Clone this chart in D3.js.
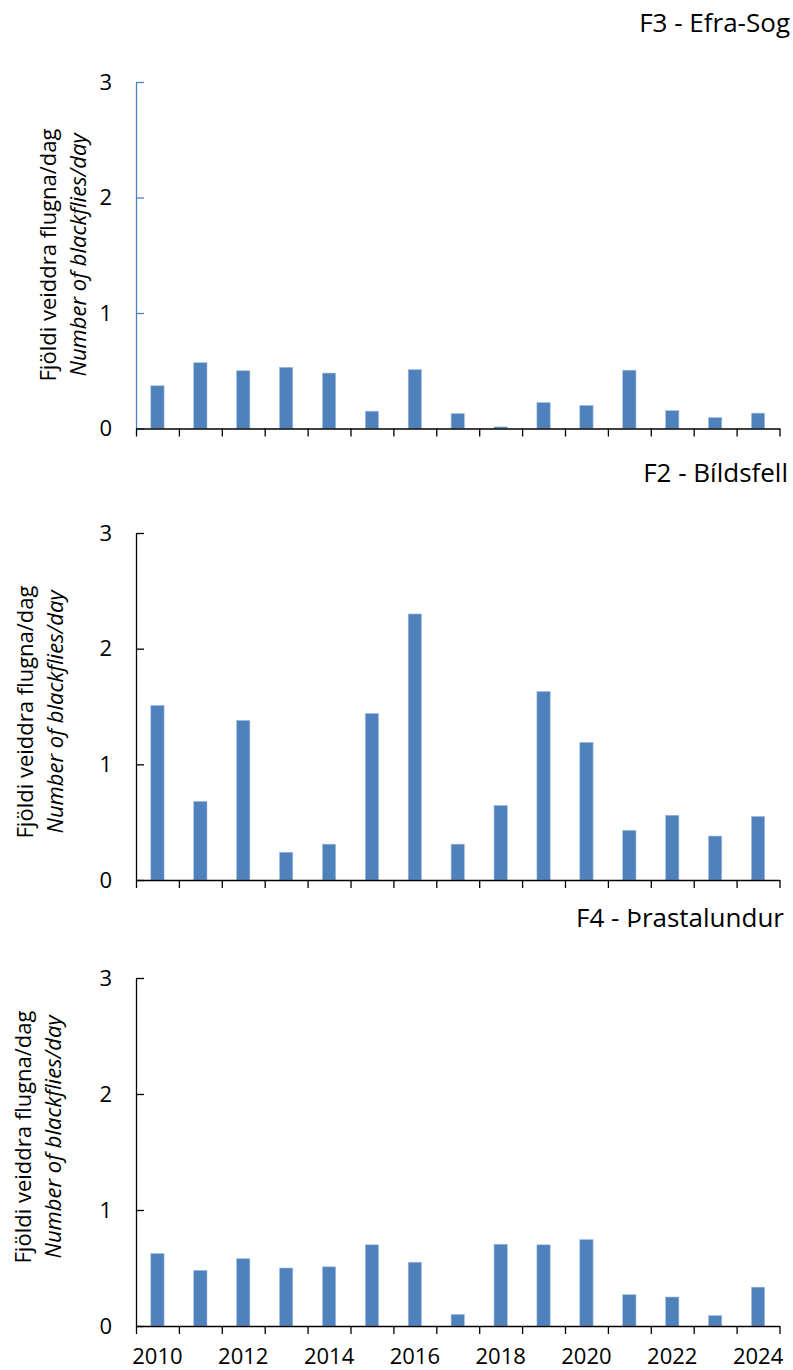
<!DOCTYPE html>
<html>
<head>
<meta charset="utf-8">
<script src="https://cdn.jsdelivr.net/npm/d3@7"></script>
<style>
  html, body { margin: 0; padding: 0; background: #fff; }
  svg text { font-family: 'Open Sans', sans-serif; fill: #000; }
</style>
</head>
<body>
<div id="chart"></div>
<script>
(function() {

  // values
  var years = [2010, 2011, 2012, 2013, 2014, 2015, 2016, 2017, 2018, 2019, 2020, 2021, 2022, 2023, 2024];
  var yearLabels = [2010, 2012, 2014, 2016, 2018, 2020, 2022, 2024];
  var yTicks = [0, 1, 2, 3];

  var efraSog = [0.37, 0.57, 0.50, 0.53, 0.48, 0.15, 0.51, 0.13, 0.014, 0.225, 0.20, 0.505, 0.155, 0.095, 0.133];
  var bildsfell = [1.51, 0.68, 1.38, 0.24, 0.31, 1.44, 2.30, 0.31, 0.645, 1.63, 1.19, 0.43, 0.56, 0.38, 0.55];
  var thrastalundur = [0.625, 0.48, 0.58, 0.50, 0.51, 0.70, 0.55, 0.10, 0.705, 0.70, 0.745, 0.27, 0.25, 0.09, 0.335];

  var titles = ['F3 - Efra-Sog', 'F2 - Bíldsfell', 'F4 - Þrastalundur'];
  var yLabelLines = ['Fjöldi veiddra flugna/dag', 'Number of blackflies/day'];

  // panel layout (pixels)
  var panels = [
    { values: efraSog,       top: 82,  bottom: 428.5, titleX: 790, titleY: 32,  labelX: 48, labelY: 255,  axisColor: '#4f81bd', years: false },
    { values: bildsfell,     top: 533, bottom: 880,   titleX: 788, titleY: 482, labelX: 25, labelY: 712,  axisColor: '#000',    years: false },
    { values: thrastalundur, top: 978, bottom: 1326,  titleX: 784, titleY: 927, labelX: 23, labelY: 1137, axisColor: '#000',    years: true }
  ];

  var left = 136, right = 779.5;
  var barColor = '#4f81bd';

  var svg = d3.select('#chart')
    .append('svg')
    .attr('width', 793)
    .attr('height', 1370);

  var x = d3.scaleBand()
    .domain(years)
    .range([left, right])
    .paddingInner(0.69)
    .paddingOuter(0.345);

  // band boundaries for the x tick marks
  var xEdges = d3.scaleLinear()
    .domain([0, years.length])
    .range([left, right]);

  panels.forEach(function(p) {

    var y = d3.scaleLinear()
      .domain([0, 3])
      .range([p.bottom, p.top]);

    var g = svg.append('g');

    // bars
    g.selectAll('rect.bar')
      .data(p.values)
      .enter()
      .append('rect')
      .attr('class', 'bar')
      .attr('x', function(d, i) { return x(years[i]); })
      .attr('width', x.bandwidth())
      .attr('y', function(d) { return y(d); })
      .attr('height', function(d) { return y(0) - y(d); })
      .attr('fill', barColor)
      .attr('stroke', '#a9c1df')
      .attr('stroke-width', 0.6);

    // y axis: ticks pointing inward, labels on the left
    var yAxis = g.append('g')
      .attr('transform', 'translate(' + left + ',0)')
      .call(d3.axisLeft(y)
        .tickValues(yTicks)
        .tickFormat(d3.format('d'))
        .tickSizeInner(-8)
        .tickSizeOuter(0)
        .tickPadding(24));

    yAxis.selectAll('path, line')
      .attr('stroke', p.axisColor)
      .attr('stroke-width', 1.3);
    yAxis.selectAll('text')
      .style('font-size', '22px')
      .style('font-family', "'Open Sans', sans-serif")
      .attr('fill', '#000');

    // x axis line and tick marks at band edges
    var xAxis = g.append('g')
      .attr('transform', 'translate(0,' + p.bottom + ')')
      .call(d3.axisBottom(xEdges)
        .tickValues(d3.range(0, years.length + 1))
        .tickFormat('')
        .tickSizeInner(8)
        .tickSizeOuter(0));

    xAxis.selectAll('path, line')
      .attr('stroke', '#000')
      .attr('stroke-width', 1.3);

    if (p.years) {
      var yearAxis = g.append('g')
        .attr('transform', 'translate(0,' + p.bottom + ')')
        .call(d3.axisBottom(x)
          .tickValues(yearLabels)
          .tickSize(0)
          .tickPadding(22));
      yearAxis.select('.domain').remove();
      yearAxis.selectAll('text')
        .style('font-size', '22px')
        .style('font-family', "'Open Sans', sans-serif")
        .attr('fill', '#000');
    }

    // panel title
    g.append('text')
      .attr('x', p.titleX)
      .attr('y', p.titleY)
      .attr('text-anchor', 'end')
      .style('font-size', '26px')
      .text(titles[p === panels[0] ? 0 : p === panels[1] ? 1 : 2]);

    // y label, two lines, second in italics
    var label = g.append('text')
      .attr('transform', 'translate(' + p.labelX + ',' + p.labelY + ') rotate(-90)')
      .attr('text-anchor', 'middle')
      .style('font-size', '22px');

    label.append('tspan')
      .attr('x', 0)
      .attr('dy', '0.35em')
      .text(yLabelLines[0]);

    label.append('tspan')
      .attr('x', 0)
      .attr('dy', '30')
      .style('font-style', 'italic')
      .text(yLabelLines[1]);
  });

})();
</script>
</body>
</html>
